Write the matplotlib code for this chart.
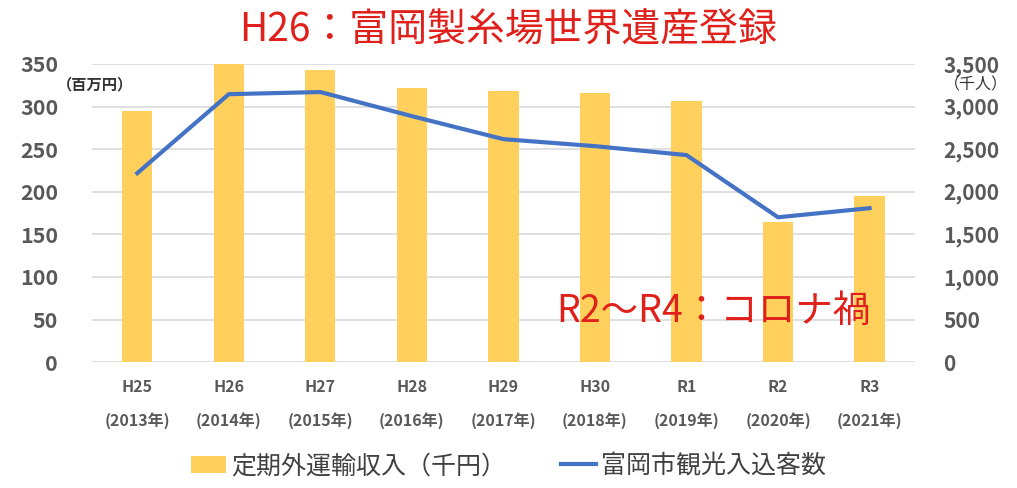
import matplotlib.pyplot as plt
import numpy as np

plt.rcParams['font.family'] = ['Noto Sans CJK JP', 'DejaVu Sans']

years = ['H25\n(2013年)', 'H26\n(2014年)', 'H27\n(2015年)', 'H28\n(2016年)', 'H29\n(2017年)',
         'H30\n(2018年)', 'R1\n(2019年)', 'R2\n(2020年)', 'R3\n(2021年)']
income = [295, 350, 343, 322, 318, 316, 306, 164, 195]
visitors = [2218, 3145, 3170, 2887, 2617, 2535, 2430, 1700, 1807]

bar_color = '#FFD15C'
line_color = '#4472C4'
tick_color = '#595959'

fig = plt.figure(figsize=(10.17, 4.88), dpi=100)
ax = fig.add_axes([0.09, 0.258, 0.81, 0.611])
ax2 = ax.twinx()

x = np.arange(len(years))
ax.bar(x, income, width=0.33, color=bar_color, zorder=2, label='定期外運輸収入（千円）')
ax2.plot(x, visitors, color=line_color, lw=3, zorder=3, label='富岡市観光入込客数')

ax.set_ylim(0, 350)
ax.set_yticks(range(0, 351, 50))
ax2.set_ylim(0, 3500)
ax2.set_yticks(range(0, 3501, 500))
ax2.set_yticklabels([f'{v:,}' for v in range(0, 3501, 500)])
ax.set_xlim(-0.5, len(years) - 0.5)
ax.set_xticks(x)
ax.set_xticklabels(years, linespacing=2.3)

ax.grid(axis='y', color='#D9D9D9', lw=1.2, zorder=0)
for a in (ax, ax2):
    for s in a.spines.values():
        s.set_visible(False)
    a.tick_params(length=0)
ax.tick_params(axis='y', labelsize=15.5, labelcolor=tick_color, pad=24)
ax2.tick_params(axis='y', labelsize=15, labelcolor=tick_color, pad=20)
for lab in ax.get_yticklabels() + ax2.get_yticklabels():
    lab.set_fontweight('bold')
ax.tick_params(axis='x', labelsize=11.5, labelcolor=tick_color, pad=12)
for lab in ax.get_xticklabels():
    lab.set_fontweight('bold')

fig.text(0.056, 0.826, '（百万円）', fontsize=11, fontweight='bold', color='#333333', va='center')
fig.text(0.928, 0.826, '（千人）', fontsize=11.5, color='#333333', va='center')

fig.text(0.5, 0.937, 'H26：富岡製糸場世界遺産登録', fontsize=28, color='#E0201B',
         ha='center', va='center')
ax.text(6.29, 60, 'R2～R4：コロナ禍', fontsize=27, color='#E0201B', ha='center', va='center', zorder=5)

h1, l1 = ax.get_legend_handles_labels()
h2, l2 = ax2.get_legend_handles_labels()
fig.legend(h1 + h2, l1 + l2, loc='center', bbox_to_anchor=(0.5, 0.045), ncol=2, frameon=False,
           fontsize=18, handlelength=1.4, handletextpad=0.2, columnspacing=2.2, labelcolor='#404040')

fig.savefig('out.png', dpi=100)
